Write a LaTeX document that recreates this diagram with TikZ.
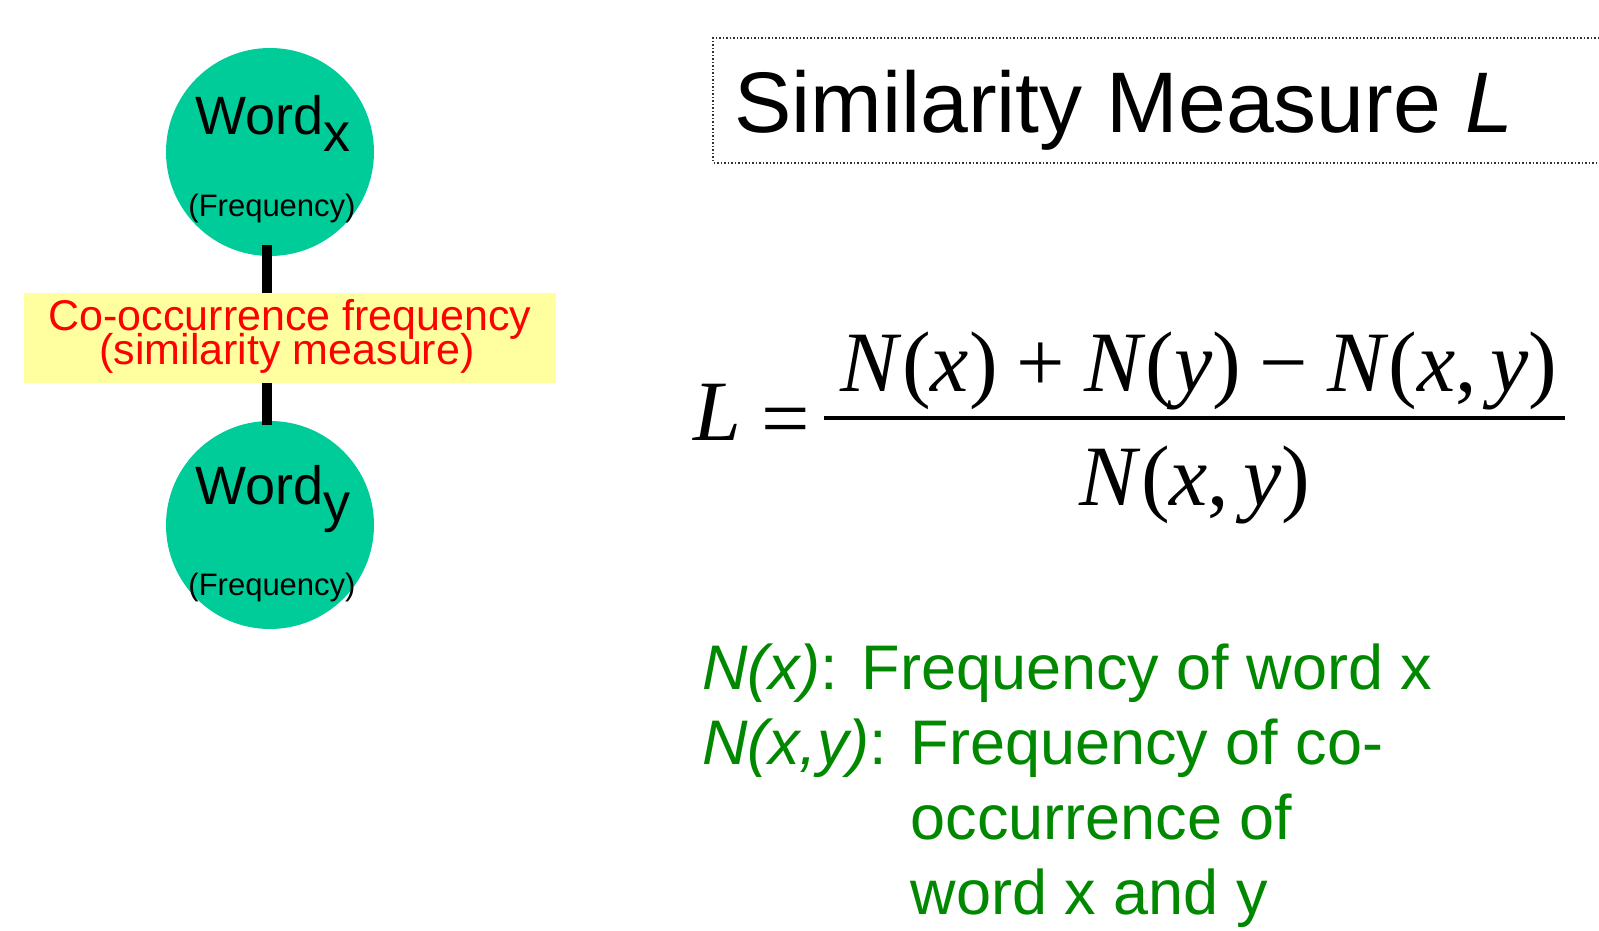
\documentclass[tikz,border=0pt]{standalone}
\usepackage{fontspec}
\setmainfont{Liberation Sans}
\newfontfamily\tms{Liberation Serif}
\definecolor{wordfill}{RGB}{0,204,153}
\definecolor{boxfill}{RGB}{255,255,160}
\definecolor{deftext}{RGB}{0,136,0}
\newcommand{\fsz}[1]{\fontsize{#1}{#1}\selectfont}
\begin{document}
\begin{tikzpicture}[x=1pt,y=-1pt,
  wordcircle/.style={circle,fill=wordfill,draw=none,minimum size=208pt,inner sep=0pt},
  conn/.style={line width=10.5pt,black},
  labelbox/.style={fill=boxfill,draw=none,minimum width=532pt,minimum height=90pt,inner sep=0pt},
  txt/.style={inner sep=0pt,outer sep=0pt,anchor=base},
  txtw/.style={inner sep=0pt,outer sep=0pt,anchor=base west},
  redlbl/.style={txt,text=red,font=\fsz{43}},
  deflbl/.style={txtw,text=deftext,font=\fsz{63}},
  mathlbl/.style={txt,font=\tms\fsz{86}}]
\useasboundingbox (0,0) rectangle (1599,931);
\fill[white] (0,0) rectangle (1599,931);
% circles
\node[wordcircle] (wx) at (270,152) {};
\node[wordcircle] (wy) at (270,525) {};
\draw[conn] ([xshift=-3pt,yshift=11pt]wx.south) -- ([xshift=-3pt,yshift=-4pt]wy.north);
\node[labelbox] (co) at (290,338) {};
\node[redlbl] (co1) at (290,330) {Co-occurrence frequency};
\node[redlbl] (co2) at (287,364) {(similarity measure)};
% circle texts
\node[txt,font=\fsz{54}] (wxt) at (273,135) {Word\raisebox{-17pt}{x}};
\node[txt,font=\fsz{31}] (wxf) at (272,216) {(Frequency)};
\node[txt,font=\fsz{54}] (wyt) at (273,504) {Word\raisebox{-17pt}{y}};
\node[txt,font=\fsz{31}] (wyf) at (272,595) {(Frequency)};
% title
\draw[line width=1.5pt,dotted,black!80] (1599,38) -- (713,38) -- (713,163) -- (1599,163);
\node[txtw,font=\fsz{86}] (title) at (734,133) {Similarity Measure \textit{L}};
% formula
\node[mathlbl,anchor=base west] (lhs) at (693,440) {\textit{L}};
\node[mathlbl] (eq) at (786,447) {=};
\node[mathlbl] (num) at (1199,391) {\textit{N}(\textit{x})\hspace{19pt}+\hspace{19pt}\textit{N}(\textit{y})\hspace{19pt}−\hspace{19pt}\textit{N}(\textit{x},\hspace{13pt}\textit{y})};
\node[mathlbl] (den) at (1195,505) {\textit{N}(\textit{x},\hspace{14pt}\textit{y})};
\coordinate (barl) at (824,418);
\coordinate (barr) at (1565,418);
\draw[line width=4.5pt] (barl) -- (barr);
% definitions
\node[deflbl] (d1) at (702,689) {\textit{N(x)}: Frequency of word x};
\node[deflbl] (d2) at (702,764) {\textit{N(x,y)}: Frequency of co-};
\node[deflbl] (d3) at (702,839) {\hphantom{\textit{N(x,y)}: }occurrence of};
\node[deflbl] (d4) at (702,914) {\hphantom{\textit{N(x,y)}: }word x and y};
\end{tikzpicture}
\end{document}
